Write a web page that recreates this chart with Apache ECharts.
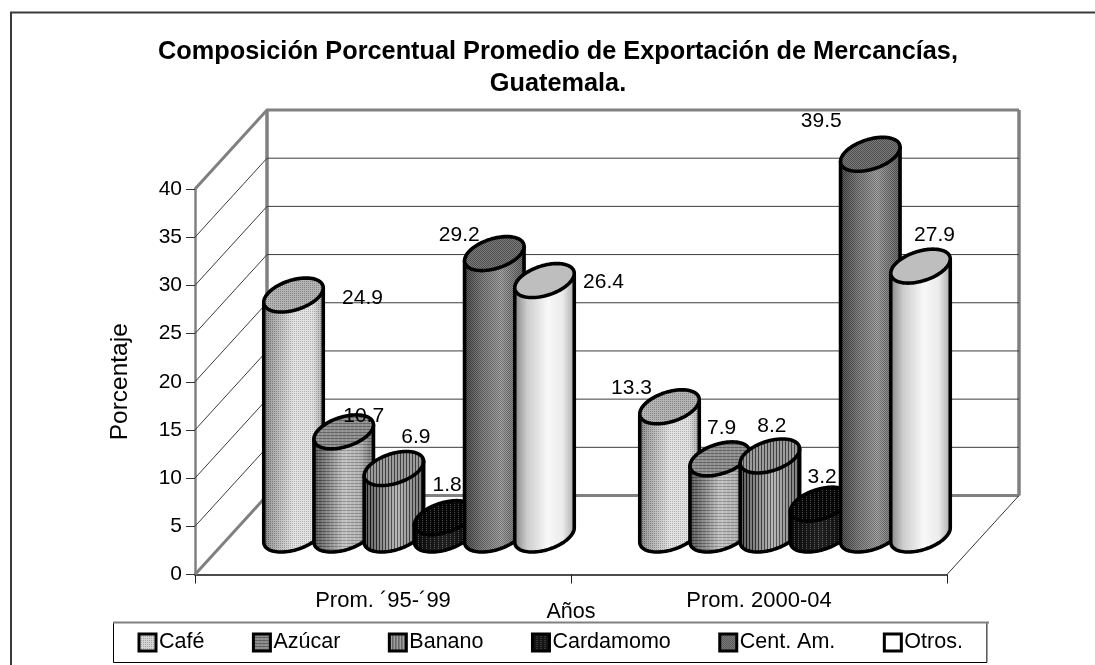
<!DOCTYPE html>
<html><head><meta charset="utf-8">
<style>html,body{margin:0;padding:0;background:#fff}#c{width:1095px;height:665px}</style>
<script src="https://cdn.jsdelivr.net/npm/echarts@6/dist/echarts.min.js"></script>
</head><body><div id="c"></div>
<script>
const categories = ['Prom. ´95-´99', 'Prom. 2000-04'];
const seriesNames = ['Café', 'Azúcar', 'Banano', 'Cardamomo', 'Cent. Am.', 'Otros.'];
const cafe = [24.9, 13.3];
const azucar = [10.7, 7.9];
const banano = [6.9, 8.2];
const cardamomo = [1.8, 3.2];
const centAm = [29.2, 39.5];
const otros = [26.4, 27.9];
const allValues = [cafe, azucar, banano, cardamomo, centAm, otros];
const yTicks = [0, 5, 10, 15, 20, 25, 30, 35, 40];

// layout constants, separate from the data
const FONT = '"Liberation Sans", Arial, sans-serif';
const DEPTH = [72, -79];
const STEP = 50.2;
const EA = 27, EB = 12.5, EC = 17;
const labelOffsets = [
  [[69, 3], [-38, -19]],
  [[20, -16], [2, -31]],
  [[22, -31], [2, -30]],
  [[3, -32], [2, -27]],
  [[-35, -18], [-49, -33]],
  [[59, 2], [14, -31]]
];

function lerpProfile(p, t) {
  for (let i = 1; i < p.length; i++) {
    if (t <= p[i][0]) {
      const k = (t - p[i - 1][0]) / (p[i][0] - p[i - 1][0]);
      return p[i - 1][1] + (p[i][1] - p[i - 1][1]) * k;
    }
  }
  return p[p.length - 1][1];
}
function makeTile(profile, dither, W, H) {
  const cv = document.createElement('canvas');
  cv.width = W; cv.height = H;
  const ctx = cv.getContext('2d');
  const im = ctx.createImageData(W, H);
  for (let y = 0; y < H; y++) for (let x = 0; x < W; x++) {
    const v = Math.max(0, Math.min(255, lerpProfile(profile, x / (W - 1)) + dither(x, y)));
    const i = (y * W + x) * 4;
    im.data[i] = im.data[i + 1] = im.data[i + 2] = v; im.data[i + 3] = 255;
  }
  ctx.putImageData(im, 0, 0);
  return { image: cv, repeat: 'repeat' };
}
const dots = (x, y) => (x % 2 === 0 && y % 2 === 0) ? -40 : 8;
const hstripes = (x, y) => (y % 3 === 0 ? -36 : 8) + (x % 4 === 0 ? 14 : 0);
const vstripes = (x, y) => (x % 3 === 0 ? -70 : 20);
const blackDots = (x, y) => (x % 4 === 0 && y % 2 === 0) ? 70 : 0;
const checker = (x, y) => ((x + y) % 2 === 0 ? -28 : 20);
const none = () => 0;
const bodyDefs = [
  [[[0, 125], [.12, 160], [.5, 218], [.82, 218], [1, 165]], dots],
  [[[0, 85], [.15, 115], [.5, 185], [.78, 170], [1, 110]], hstripes],
  [[[0, 70], [.15, 100], [.55, 165], [1, 100]], vstripes],
  [[[0, 10], [.5, 30], [1, 10]], blackDots],
  [[[0, 70], [.3, 115], [.62, 145], [1, 95]], checker],
  [[[0, 140], [.2, 205], [.55, 248], [.8, 235], [1, 170]], none]
];
const topDefs = [
  [[[0, 172], [1, 172]], dots],
  [[[0, 135], [1, 135]], hstripes],
  [[[0, 135], [1, 135]], vstripes],
  [[[0, 6], [1, 6]], blackDots],
  [[[0, 105], [1, 105]], checker],
  [[[0, 190], [1, 190]], none]
];
const bodyFills = bodyDefs.map(d => makeTile(d[0], d[1], 60, 12));
const topFills = topDefs.map(d => makeTile(d[0], d[1], 60, 12));
const legendFills = [
  makeTile([[0, 205], [1, 205]], dots, 12, 12),
  makeTile([[0, 130], [1, 130]], hstripes, 12, 12),
  makeTile([[0, 140], [1, 140]], vstripes, 12, 12),
  makeTile([[0, 20], [1, 20]], blackDots, 12, 12),
  makeTile([[0, 110], [1, 110]], checker, 12, 12),
  makeTile([[0, 255], [1, 255]], none, 12, 12)
];

function ellipsePoint(cx, cy, t) {
  return [cx + EA * Math.cos(t) + EB * Math.sin(t), cy - EC * Math.sin(t)];
}
function ellipsePts(cx, cy, from, to, n) {
  const pts = [];
  for (let i = 0; i <= n; i++) pts.push(ellipsePoint(cx, cy, from + (to - from) * i / n));
  return pts;
}
const T0 = Math.atan2(EB, EA);

function cylinderItem(s) {
  return function (params, api) {
    const c = api.value(0), v = api.value(1);
    const top = api.coord([c, v]);
    const base = api.coord([c, 0]);
    const ox = s - (allValues.length - 1) / 2;
    const cx = top[0] + ox * STEP + DEPTH[0] / 2;
    const topY = top[1] + DEPTH[1] / 2;
    const h = base[1] - top[1];
    const gx = Math.round(cx - 30), gy = Math.round(topY);
    const lx = cx - gx, ly = topY - gy;
    const lower = ellipsePts(lx, ly + h, T0 + Math.PI, T0 + 2 * Math.PI, 48);
    const bodyPts = [ellipsePoint(lx, ly, T0 + Math.PI)].concat(lower, [ellipsePoint(lx, ly, T0)]);
    const topPts = ellipsePts(lx, ly, 0, 2 * Math.PI, 72);
    return {
      type: 'group', x: gx, y: gy,
      children: [
        { type: 'polygon', shape: { points: bodyPts },
          style: { fill: bodyFills[s], stroke: '#000', lineWidth: 3.6, lineJoin: 'round' } },
        { type: 'polygon', shape: { points: topPts },
          style: { fill: topFills[s], stroke: '#000', lineWidth: 3.6, lineJoin: 'round' } }
      ]
    };
  };
}

function wallItem(params, api) {
  const v = api.value(0);
  const cs = params.coordSys;
  const y = api.coord([0, v])[1];
  const L = cs.x, R = cs.x + cs.width;
  const bx = L + DEPTH[0], by = y + DEPTH[1], brx = R + DEPTH[0];
  const thick = v === yTicks[0] || v === yTicks[yTicks.length - 1];
  const color = thick ? '#808080' : '#3c3c3c';
  const lw = thick ? 3 : 1;
  const kids = [
    { type: 'polyline', shape: { points: [[L, y], [bx, by], [brx, by]] },
      style: { stroke: color, lineWidth: lw, fill: null } }
  ];
  if (v === yTicks[0]) {
    const topY = api.coord([0, yTicks[yTicks.length - 1]])[1] + DEPTH[1];
    kids.push(
      { type: 'line', shape: { x1: bx, y1: by, x2: bx, y2: topY }, style: { stroke: '#808080', lineWidth: 3.5 } },
      { type: 'line', shape: { x1: brx, y1: by, x2: brx, y2: topY }, style: { stroke: '#808080', lineWidth: 3.5 } },
      { type: 'line', shape: { x1: R, y1: y, x2: brx, y2: by }, style: { stroke: '#333', lineWidth: 1 } }
    );
  }
  return { type: 'group', children: kids };
}

const labelRows = [];
allValues.forEach((vals, s) => vals.forEach((v, c) => labelRows.push([c, v, s])));
function labelItem(params, api) {
  const c = api.value(0), v = api.value(1), s = api.value(2);
  const top = api.coord([c, v]);
  const ox = s - (allValues.length - 1) / 2;
  const off = labelOffsets[s][c];
  return {
    type: 'text',
    style: {
      text: v.toFixed(1),
      x: top[0] + ox * STEP + DEPTH[0] / 2 + off[0],
      y: top[1] + DEPTH[1] / 2 + off[1],
      fill: '#000', align: 'center', verticalAlign: 'middle',
      font: '21px ' + FONT
    }
  };
}

const chart = echarts.init(document.getElementById('c'), null, { renderer: 'canvas' });
chart.setOption({
  animation: false,
  backgroundColor: '#fff',
  textStyle: { fontFamily: FONT },
  title: {
    text: 'Composición Porcentual Promedio de Exportación de Mercancías,\nGuatemala.',
    left: 553, top: 31, textAlign: 'center',
    textStyle: { fontFamily: FONT, fontSize: 25.3, fontWeight: 'bold', color: '#000', lineHeight: 32 }
  },
  grid: { left: 195, top: 189, width: 752, height: 385.5, containLabel: false },
  xAxis: {
    type: 'category', data: categories, boundaryGap: true,
    name: 'Años', nameLocation: 'middle', nameGap: 27, nameMoveOverlap: false,
    nameTextStyle: { fontSize: 21.5, color: '#000', fontFamily: FONT },
    axisLine: { lineStyle: { color: '#111', width: 1.5 } },
    axisTick: { show: true, length: 9, lineStyle: { color: '#222', width: 1 } },
    axisLabel: { fontSize: 22, color: '#000', margin: 15, fontFamily: FONT },
    splitLine: { show: false }
  },
  yAxis: {
    type: 'value', min: 0, max: 40, interval: 5,
    name: 'Porcentaje', nameLocation: 'middle', nameGap: 62, nameRotate: 90,
    nameTextStyle: { fontSize: 24.5, color: '#000', fontFamily: FONT },
    axisLine: { show: true, lineStyle: { color: '#808080', width: 2.5 } },
    axisTick: { show: true, length: 9, lineStyle: { color: '#333', width: 1 } },
    axisLabel: { fontSize: 21, color: '#000', margin: 13, fontFamily: FONT },
    splitLine: { show: false }
  },
  legend: {
    left: 113.5, top: 622.5, orient: 'horizontal', selectedMode: false,
    padding: [9, 24], itemGap: 47.5, itemWidth: 17, itemHeight: 17,
    borderColor: '#000', borderWidth: 1, backgroundColor: '#fff',
    textStyle: { fontSize: 21.5, color: '#000', fontFamily: FONT, padding: [1, 0, 0, -2] },
    data: seriesNames.map((n, i) => ({
      name: n, icon: 'rect',
      itemStyle: { color: legendFills[i], borderColor: '#000', borderWidth: 3 }
    }))
  },
  graphic: [
    { type: 'polyline', silent: true, z: 20,
      shape: { points: [[11, 665], [11, 12.5], [1095, 12.5]] },
      style: { stroke: '#3a3a3a', lineWidth: 2, fill: null } },
    { type: 'line', silent: true, z: 20,
      shape: { x1: 113, y1: 622.5, x2: 989, y2: 622.5 },
      style: { stroke: '#808080', lineWidth: 2 } }
  ],
  series: [
    { type: 'custom', name: 'muros', coordinateSystem: 'cartesian2d', z: 1, silent: true,
      data: yTicks.map(v => [v]), encode: { y: 0 }, renderItem: wallItem }
  ].concat(seriesNames.map((n, s) => ({
    type: 'custom', name: n, coordinateSystem: 'cartesian2d', z: 2 + s, silent: true,
    data: allValues[s].map((v, c) => [c, v]), encode: { x: 0, y: 1 }, renderItem: cylinderItem(s)
  }))).concat([
    { type: 'custom', name: 'etiquetas', coordinateSystem: 'cartesian2d', z: 12, silent: true,
      data: labelRows, encode: { x: 0, y: 1 }, renderItem: labelItem }
  ])
});
</script></body></html>
